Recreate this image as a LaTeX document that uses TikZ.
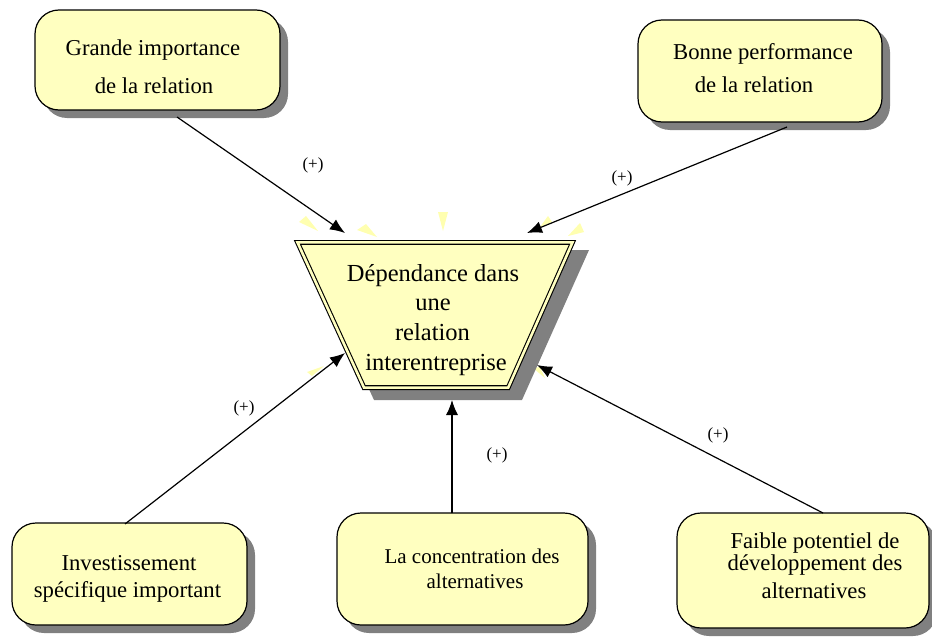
\documentclass[tikz,border=0pt]{standalone}
\usepackage{fontspec}
\setmainfont{Liberation Serif}
\usetikzlibrary{arrows.meta,shadows}
\definecolor{paleyellow}{HTML}{FFFFC0}
\definecolor{rayyellow}{HTML}{FFFFB0}
\definecolor{shadowgray}{HTML}{808080}

\begin{document}
\begin{tikzpicture}[x=1pt,y=-1pt,
  factor/.style={draw=black, line width=1.2pt, fill=paleyellow,
    rounded corners=24pt, inner sep=0pt,
    drop shadow={shadow xshift=8pt, shadow yshift=-8pt, fill=shadowgray, opacity=1}},
  txt/.style={font=\fontsize{22.7}{26}\selectfont, inner sep=0pt, anchor=base},
  smalltxt/.style={font=\fontsize{21}{25}\selectfont, inner sep=0pt, anchor=base},
  bigtxt/.style={font=\fontsize{24.5}{29}\selectfont, inner sep=0pt, anchor=base},
  sign/.style={font=\fontsize{17}{19}\selectfont, inner sep=0pt},
  link/.style={-{Latex[length=15pt,width=12pt]}, line width=1.2pt},
  ray/.style={fill=rayyellow}]

\useasboundingbox (0,0) rectangle (932,637);

% factor boxes
\node[factor, minimum width=245pt, minimum height=100pt] (imp) at (157.5,60) {};
\node[factor, minimum width=244pt, minimum height=102pt] (perf) at (760,71) {};
\node[factor, minimum width=235pt, minimum height=102pt] (inv) at (129.5,574) {};
\node[factor, minimum width=251pt, minimum height=112pt] (conc) at (462.5,569) {};
\node[factor, minimum width=252pt, minimum height=115pt] (pot) at (803,570.5) {};

% box texts
\node[txt] (imp1) at (153,55) {Grande importance};
\node[txt] (imp2) at (154,93) {de la relation};
\node[txt] (perf1) at (763,59) {Bonne performance};
\node[txt] (perf2) at (754,92) {de la relation};
\node[txt] (inv1) at (129,570) {Investissement};
\node[txt] (inv2) at (127.5,597) {spécifique important};
\node[smalltxt] (conc1) at (472,563) {La concentration des};
\node[smalltxt] (conc2) at (475,588) {alternatives};
\node[txt] (pot1) at (815,548) {Faible potentiel de};
\node[txt] (pot2) at (815,570) {développement des};
\node[txt] (pot3) at (814,598) {alternatives};

% glints around the central shape
\fill[ray] (299,222) -- (306,216) -- (318,231) -- cycle;
\fill[ray] (357,230) -- (366,224) -- (377,237) -- cycle;
\fill[ray] (438,212) -- (448,212) -- (443,231) -- cycle;
\fill[ray] (540,227) -- (548,216) -- (552,222) -- cycle;
\fill[ray] (568,236) -- (580,223) -- (584,232) -- cycle;
\fill[ray] (307,372) -- (324,366) -- (312,376) -- cycle;
\fill[ray] (533,368) -- (540,367) -- (545,378) -- cycle;

% central inverted trapezoid: shadow, then double-ruled outline
\fill[shadowgray] (305,250) -- (589,250) -- (522,400) -- (374,400) -- cycle;
\draw[line width=1.1pt, double=paleyellow, double distance=2.6pt, fill=paleyellow]
  (297.5,242.4) -- (572.5,242.4) -- (508.2,387.6) -- (364,387.6) -- cycle;
\coordinate (dep) at (435,315);

\node[bigtxt] (dep1) at (433,281) {Dépendance dans};
\node[bigtxt] (dep2) at (433,310) {une};
\node[bigtxt] (dep3) at (432.5,340) {relation};
\node[bigtxt] (dep4) at (436,370) {interentreprise};

% arrow ends
\coordinate (impS) at (177,117);
\coordinate (impT) at (345,233);
\coordinate (perfS) at (787,127);
\coordinate (perfT) at (527,233);
\coordinate (invS) at (125,524);
\coordinate (invT) at (345,353);
\coordinate (concS) at (452,513);
\coordinate (concT) at (452,400);
\coordinate (potS) at (823,513);
\coordinate (potT) at (537,365);

\draw[link] (impS) -- (impT);
\draw[link] (perfS) -- (perfT);
\draw[link] (invS) -- (invT);
\draw[link] (concS) -- (concT);
\draw[link] (potS) -- (potT);

% signs
\node[sign] (s1) at (313,165) {(+)};
\node[sign] (s2) at (622,178) {(+)};
\node[sign] (s3) at (244,408) {(+)};
\node[sign] (s4) at (497,455) {(+)};
\node[sign] (s5) at (718,435) {(+)};
\end{tikzpicture}
\end{document}
